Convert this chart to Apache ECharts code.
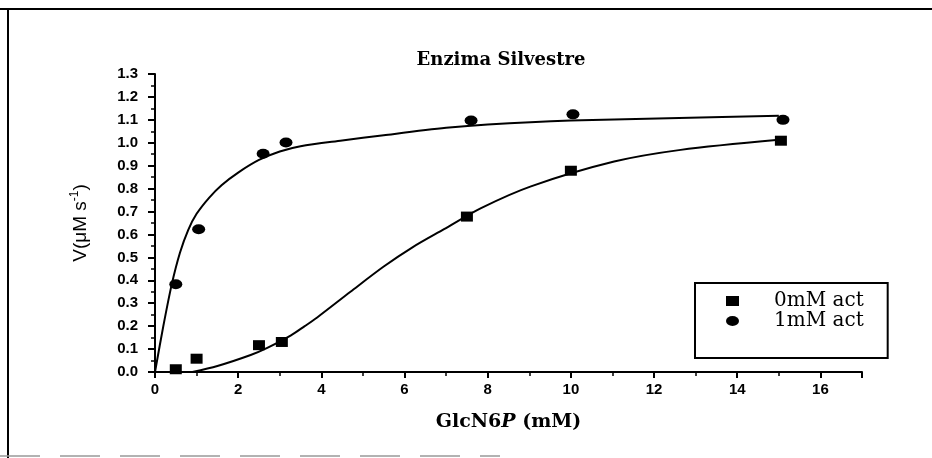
<!DOCTYPE html>
<html>
<head>
<meta charset="utf-8">
<title>Enzima Silvestre</title>
<script src="https://cdn.jsdelivr.net/npm/echarts@6/dist/echarts.min.js"></script>
<style>
  html, body { margin: 0; padding: 0; background: #fff; }
  #chart { width: 932px; height: 458px; }
</style>
</head>
<body>
<div id="chart"></div>
<script>
// Measured velocities, 0 mM activator (squares)
const conc0 = [0.5, 1.0, 2.5, 3.05, 7.5, 10.0, 15.05];
const rate0 = [0.012, 0.058, 0.117, 0.131, 0.678, 0.878, 1.009];
// Measured velocities, 1 mM activator (circles)
const conc1 = [0.5, 1.05, 2.6, 3.15, 7.6, 10.05, 15.1];
const rate1 = [0.383, 0.623, 0.952, 1.001, 1.097, 1.124, 1.100];

// Fitted curve, 0 mM activator
const fitConc0 = [0.9, 1.5, 2.3, 2.7, 3.27, 3.6, 3.9, 4.7, 5.5, 6.2, 6.95, 7.84, 9.04, 11.04, 12.64, 15.0];
const fitRate0 = [0.0, 0.026, 0.074, 0.105, 0.16, 0.2, 0.238, 0.35, 0.46, 0.545, 0.623, 0.715, 0.81, 0.918, 0.969, 1.013];
// Fitted curve, 1 mM activator
const fitConc1 = [0, 0.2, 0.4, 0.6, 0.8, 1.0, 1.3, 1.6, 2.0, 2.5, 3.0, 3.5, 4.5, 5.5, 7.0, 8.0, 10.0, 12.6, 15.0];
const fitRate1 = [0, 0.2, 0.38, 0.52, 0.62, 0.69, 0.76, 0.815, 0.87, 0.925, 0.962, 0.985, 1.01, 1.033, 1.065, 1.08, 1.097, 1.108, 1.118];

// Axis tick settings
const xTickStep = 2;
const yTickStep = 0.1;

const seriesNames = ['0mM act', '1mM act'];

const pairs = (xs, ys) => xs.map((x, i) => [x, ys[i]]);
const ellipse = 'path://M0,5a6.5,5 0 1,0 13,0a6.5,5 0 1,0 -13,0z';

const chart = echarts.init(document.getElementById('chart'), null, { renderer: 'canvas' });

chart.setOption({
  animation: false,
  backgroundColor: '#ffffff',
  title: {
    text: 'Enzima Silvestre',
    left: 501,
    top: 51,
    textAlign: 'center',
    padding: 0,
    textStyle: {
      fontFamily: 'DejaVu Serif',
      fontWeight: 'bold',
      fontSize: 18,
      color: '#000'
    }
  },
  grid: { left: 155, top: 74, width: 707, height: 298, containLabel: false },
  legend: {
    data: seriesNames,
    orient: 'vertical',
    left: 695,
    top: 283,
    padding: [8, 24, 27, 31],
    itemWidth: 13,
    itemHeight: 10,
    itemGap: 0,
    borderColor: '#000',
    borderWidth: 2,
    borderRadius: 0,
    textStyle: {
      fontFamily: 'DejaVu Serif',
      fontSize: 20,
      color: '#000',
      lineHeight: 20,
      padding: [0, 0, 0, 30]
    }
  },
  xAxis: {
    type: 'value',
    min: 0,
    max: 17,
    interval: xTickStep,
    name: '{n|GlcN6}{it|P}{n| (mM)}',
    nameLocation: 'middle',
    nameGap: 41,
    nameTextStyle: {
      rich: {
        n: { fontFamily: 'DejaVu Serif', fontWeight: 'bold', fontSize: 19, color: '#000' },
        it: { fontFamily: 'DejaVu Serif', fontWeight: 'bold', fontSize: 19, fontStyle: 'italic', color: '#000' }
      }
    },
    axisLine: { show: true, onZero: false, lineStyle: { color: '#000', width: 2 } },
    axisTick: { show: true, length: 6, lineStyle: { color: '#000', width: 2 } },
    minorTick: { show: true, splitNumber: 2, length: 4, lineStyle: { color: '#000', width: 1.5 } },
    axisLabel: {
      margin: 10,
      showMaxLabel: false,
      fontFamily: 'Liberation Sans',
      fontWeight: 'bold',
      fontSize: 15,
      color: '#000',
      formatter: v => (v % 2 === 0 ? String(v) : '')
    },
    splitLine: { show: false },
    minorSplitLine: { show: false }
  },
  yAxis: {
    type: 'value',
    min: 0,
    max: 1.3,
    interval: yTickStep,
    name: '{n|V(μM s}{sup|-1}{n|)}',
    nameLocation: 'middle',
    nameRotate: 90,
    nameGap: 62,
    nameTextStyle: {
      rich: {
        n: { fontFamily: 'Liberation Sans', fontSize: 19, color: '#000', lineHeight: 24 },
        sup: { fontFamily: 'Liberation Sans', fontSize: 12, color: '#000', verticalAlign: 'top', lineHeight: 24 }
      }
    },
    axisLine: { show: true, onZero: false, lineStyle: { color: '#000', width: 2 } },
    axisTick: { show: true, length: 7, lineStyle: { color: '#000', width: 2 } },
    minorTick: { show: true, splitNumber: 2, length: 4, lineStyle: { color: '#000', width: 1.5 } },
    axisLabel: {
      margin: 17,
      fontFamily: 'Liberation Sans',
      fontWeight: 'bold',
      fontSize: 15,
      color: '#000',
      formatter: v => v.toFixed(1)
    },
    splitLine: { show: false },
    minorSplitLine: { show: false }
  },
  series: [
    {
      name: 'fit0',
      type: 'line',
      data: pairs(fitConc0, fitRate0),
      smooth: 0.3,
      showSymbol: false,
      lineStyle: { color: '#000', width: 2 },
      silent: true,
      z: 2
    },
    {
      name: 'fit1',
      type: 'line',
      data: pairs(fitConc1, fitRate1),
      smooth: 0.3,
      showSymbol: false,
      lineStyle: { color: '#000', width: 2 },
      silent: true,
      z: 2
    },
    {
      name: seriesNames[0],
      type: 'scatter',
      data: pairs(conc0, rate0),
      symbol: 'rect',
      symbolSize: [12, 10],
      itemStyle: { color: '#000', opacity: 1 },
      z: 3
    },
    {
      name: seriesNames[1],
      type: 'scatter',
      data: pairs(conc1, rate1),
      symbol: ellipse,
      symbolSize: [13, 10],
      itemStyle: { color: '#000', opacity: 1 },
      z: 3
    }
  ],
  graphic: [
    // page frame: top and left rules, faint bottom rule
    { type: 'line', shape: { x1: 0, y1: 9, x2: 932, y2: 9 }, style: { stroke: '#000', lineWidth: 2 } },
    { type: 'line', shape: { x1: 8, y1: 9, x2: 8, y2: 458 }, style: { stroke: '#000', lineWidth: 2 } },
    { type: 'line', shape: { x1: 0, y1: 456, x2: 500, y2: 456 }, style: { stroke: '#999', lineWidth: 1.5, lineDash: [40, 20] } }
  ]
});
</script>
</body>
</html>
